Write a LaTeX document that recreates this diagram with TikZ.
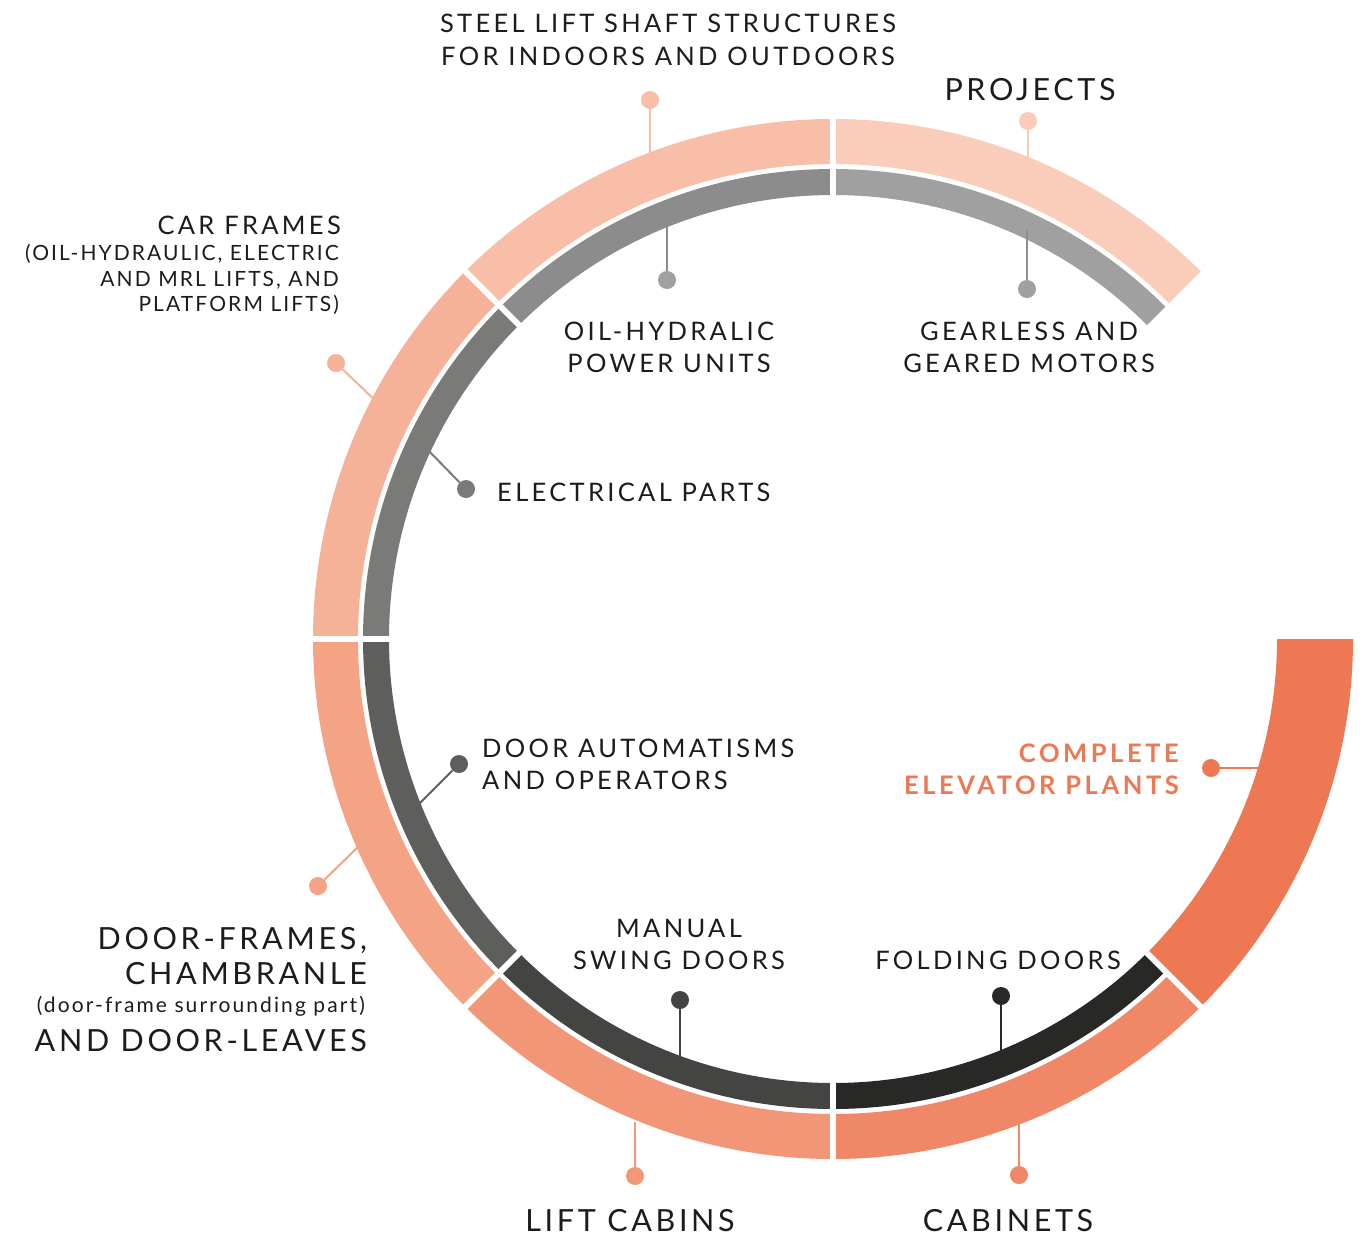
\documentclass[tikz,border=0pt]{standalone}
\usepackage{fontspec}
\setmainfont{Lato}
\newfontfamily\labfont{Lato}[LetterSpace=13.0]
\newfontfamily\compfont{Lato}[LetterSpace=14.0]
\newfontfamily\bigfont{Lato}[LetterSpace=12.0]
\newfontfamily\smlfont{Lato}[LetterSpace=10.0]
\usetikzlibrary{calc}
\definecolor{txt}{HTML}{1C1C1C}
\definecolor{cProj}{HTML}{F9CDBA}
\definecolor{cSteel}{HTML}{F8BEA8}
\definecolor{cCar}{HTML}{F6B298}
\definecolor{cDF}{HTML}{F4A385}
\definecolor{cLC}{HTML}{F29678}
\definecolor{cCab}{HTML}{F08867}
\definecolor{cComp}{HTML}{EE7853}
\definecolor{cGear}{HTML}{A0A0A0}
\definecolor{cOil}{HTML}{8C8C8C}
\definecolor{cElec}{HTML}{7A7A79}
\definecolor{cDA}{HTML}{5E5E5D}
\definecolor{cMS}{HTML}{444443}
\definecolor{cFold}{HTML}{282826}
\newcommand\ringseg[5]{\fill[#1] ($(C)+(#2:#4pt)$) arc[start angle=#2,end angle=#3,radius=#4pt] -- ($(C)+(#3:#5pt)$) arc[start angle=#3,end angle=#2,radius=#5pt] -- cycle;}
\tikzset{
  lbl/.style={inner sep=0pt, font=\labfont\fontsize{25.5}{32}\selectfont, text=txt},
  big/.style={inner sep=0pt, font=\bigfont\fontsize{30.5}{36}\selectfont, text=txt},
  small/.style={inner sep=0pt, font=\smlfont\fontsize{21}{25}\selectfont, text=txt},
  comp/.style={inner sep=0pt, font=\compfont\bfseries\fontsize{25.5}{32}\selectfont, text=cComp},
  lead/.style={line width=2pt},
  dotn/.style={circle, inner sep=0pt, minimum size=18pt}
}
\begin{document}
\begin{tikzpicture}[x=1pt,y=1pt]
\useasboundingbox[fill=white] (0,0) rectangle (1372,-1239);
\coordinate (C) at (833,-639);
% outer ring
\ringseg{cProj}{90}{45}{520}{475}
\ringseg{cSteel}{135}{90}{520}{475}
\ringseg{cCar}{180}{135}{520}{475}
\ringseg{cDF}{225}{180}{520}{475}
\ringseg{cLC}{270}{225}{520}{475}
\ringseg{cCab}{315}{270}{520}{475}
\ringseg{cComp}{360}{315}{520}{444}
% inner ring
\ringseg{cGear}{90}{45}{470}{444}
\ringseg{cOil}{135}{90}{470}{444}
\ringseg{cElec}{180}{135}{470}{444}
\ringseg{cDA}{225}{180}{470}{444}
\ringseg{cMS}{270}{225}{470}{444}
\ringseg{cFold}{315}{270}{470}{444}
% gaps
\foreach \a in {90,135,180,225,270,315}
  \draw[white, line width=6pt] ($(C)+(\a:435pt)$) -- ($(C)+(\a:530pt)$);

% leaders and dots
\coordinate (eSteel) at (650,-160);
\node[dotn, fill=cSteel] (dSteel) at (650,-100) {};
\draw[lead, cSteel] (dSteel) -- (eSteel);
\coordinate (eProj) at (1028,-170);
\node[dotn, fill=cProj!90!cSteel] (dProj) at (1028,-121) {};
\draw[lead, cProj!90!cSteel] (dProj) -- (eProj);
\coordinate (eOil) at (667,-220);
\node[dotn, fill=cGear] (dOil) at (667,-280) {};
\draw[lead, cOil] (dOil) -- (eOil);
\coordinate (eGear) at (1027,-230);
\node[dotn, fill=cGear] (dGear) at (1027,-289) {};
\draw[lead, cGear!90!black] (dGear) -- (eGear);
\coordinate (eCar) at (380,-405);
\node[dotn, fill=cCar] (dCar) at (336,-363) {};
\draw[lead, cCar] (dCar) -- (eCar);
\coordinate (eElec) at (425,-447);
\node[dotn, fill=cElec] (dElec) at (466,-489) {};
\draw[lead, cElec] (dElec) -- (eElec);
\coordinate (eDA) at (417,-806);
\node[dotn, fill=cDA] (dDA) at (459,-764) {};
\draw[lead, cDA] (dDA) -- (eDA);
\coordinate (eDF) at (362,-843);
\node[dotn, fill=cDF] (dDF) at (318,-886) {};
\draw[lead, cDF] (dDF) -- (eDF);
\coordinate (eMS) at (680,-1060);
\node[dotn, fill=cMS] (dMS) at (680,-1000) {};
\draw[lead, cMS] (dMS) -- (eMS);
\coordinate (eFold) at (1001,-1055);
\node[dotn, fill=cFold] (dFold) at (1001,-996) {};
\draw[lead, cFold] (dFold) -- (eFold);
\coordinate (eLC) at (635,-1122);
\node[dotn, fill=cLC] (dLC) at (635,-1176) {};
\draw[lead, cLC] (dLC) -- (eLC);
\coordinate (eCab) at (1019,-1118);
\node[dotn, fill=cCab] (dCab) at (1019,-1175) {};
\draw[lead, cCab] (dCab) -- (eCab);
\coordinate (eComp) at (1265,-768);
\node[dotn, fill=cComp] (dComp) at (1211,-768) {};
\draw[lead, cComp] (dComp) -- (eComp);

% labels
\node[lbl, anchor=base] (tSteelA) at (668,-33) {STEEL LIFT SHAFT STRUCTURES};
\node[lbl, anchor=base] (tSteelB) at (668,-66) {FOR INDOORS AND OUTDOORS};
\node[big, anchor=base] (tProj) at (1030,-100) {PROJECTS};
\node[lbl, anchor=base] (tOilA) at (669,-340) {OIL-HYDRALIC};
\node[lbl, anchor=base] (tOilB) at (669,-372) {POWER UNITS};
\node[lbl, anchor=base] (tGearA) at (1029,-340) {GEARLESS AND};
\node[lbl, anchor=base] (tGearB) at (1029,-372) {GEARED MOTORS};
\node[lbl, anchor=base east] (tCarA) at (341,-234) {CAR FRAMES};
\node[small, anchor=base east] (tCarB) at (339,-260) {(OIL-HYDRAULIC, ELECTRIC};
\node[small, anchor=base east] (tCarC) at (339,-286) {AND MRL LIFTS, AND};
\node[small, anchor=base east] (tCarD) at (339,-311) {PLATFORM LIFTS)};
\node[lbl, anchor=base west] (tElec) at (497,-501) {ELECTRICAL PARTS};
\node[lbl, anchor=base west] (tDAA) at (482,-757) {DOOR AUTOMATISMS};
\node[lbl, anchor=base west] (tDAB) at (482,-789) {AND OPERATORS};
\node[big, anchor=base east] (tDFA) at (367,-949) {DOOR-FRAMES,};
\node[big, anchor=base east] (tDFB) at (367,-984) {CHAMBRANLE};
\node[small, anchor=base east] (tDFC) at (365,-1012) {(door-frame surrounding part)};
\node[big, anchor=base east] (tDFD) at (367,-1051) {AND DOOR-LEAVES};
\node[lbl, anchor=base] (tMSA) at (679,-937) {MANUAL};
\node[lbl, anchor=base] (tMSB) at (679,-969) {SWING DOORS};
\node[lbl, anchor=base] (tFold) at (998,-969) {FOLDING DOORS};
\node[comp, anchor=base east] (tCompA) at (1179,-762) {COMPLETE};
\node[comp, anchor=base east] (tCompB) at (1179,-794) {ELEVATOR PLANTS};
\node[big, anchor=base] (tLC) at (630,-1231) {LIFT CABINS};
\node[big, anchor=base] (tCab) at (1008,-1231) {CABINETS};
\end{tikzpicture}
\end{document}
